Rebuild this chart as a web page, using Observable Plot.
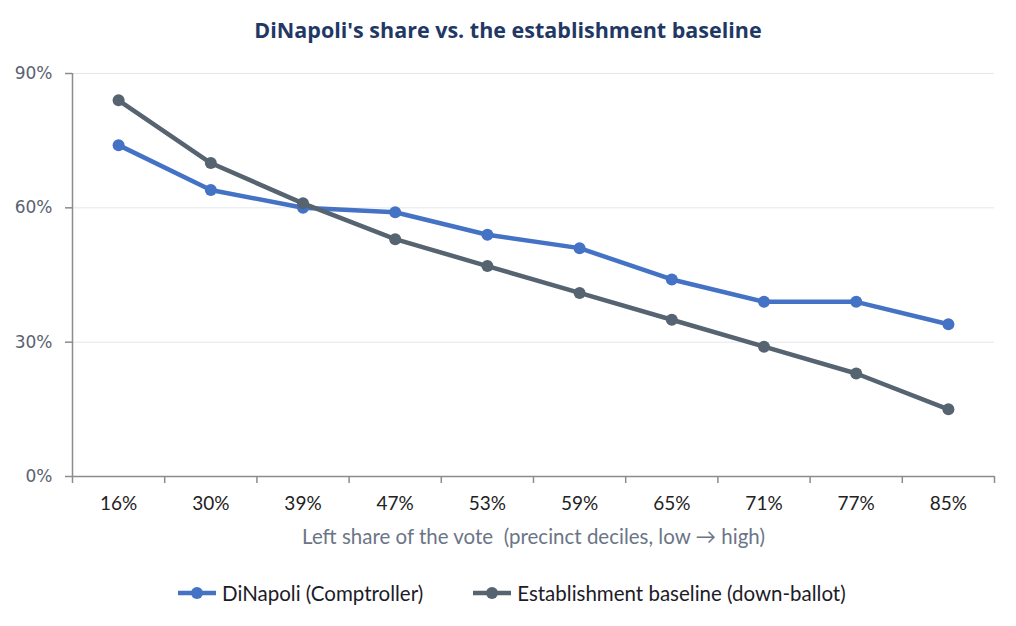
<!DOCTYPE html>
<html>
<head>
<meta charset="utf-8">
<script src="https://cdn.jsdelivr.net/npm/d3@7"></script>
<script src="https://cdn.jsdelivr.net/npm/@observablehq/plot@0.6"></script>
<style>
  body { margin: 0; background: #fff; font-family: Lato, "Open Sans", sans-serif; }
  #title {
    height: 50px; box-sizing: border-box;
    text-align: center; font-family: "Open Sans", sans-serif; font-weight: 700;
    font-size: 21.5px; line-height: 60px; color: #1f3864;
  }
  #chart svg { display: block; }
  #legend {
    display: flex; align-items: center; height: 24px; margin-top: 21px;
    padding-left: 178px; font-size: 20.5px; color: #1c1c28;
  }
  .item { display: flex; align-items: center; margin-right: 50px; }
  .item svg { margin-right: 6px; }
</style>
</head>
<body>
<div id="title">DiNapoli's share vs. the establishment baseline</div>
<div id="chart"></div>
<div id="legend"></div>
<script>
// Precinct deciles by left share of the vote (x categories)
const deciles = ["16%", "30%", "39%", "47%", "53%", "59%", "65%", "71%", "77%", "85%"];
// Vote share (%) in each decile
const dinapoli = [74, 64, 60, 59, 54, 51, 44, 39, 39, 34];
const baseline = [84, 70, 61, 53, 47, 41, 35, 29, 23, 15];
const seriesNames = ["DiNapoli (Comptroller)", "Establishment baseline (down-ballot)"];
const seriesColors = ["#4472c4", "#566370"];
const yTicks = [0, 30, 60, 90];
const xTitle = "Left share of the vote  (precinct deciles, low \u2192 high)";

const rows = [dinapoli, baseline].flatMap((vals, s) =>
  vals.map((v, i) => ({ i, label: deciles[i], series: seriesNames[s], value: v }))
);

const n = deciles.length;
const xDomain = [-0.5, n - 0.5];
const boundaries = d3.range(n + 1).map(i => i - 0.5);
const axisGray = "#8c8c8c";

// Each series draws its line, then its markers, so the later series sits on top
const seriesMarks = seriesNames.flatMap(name => {
  const data = rows.filter(d => d.series === name);
  return [
    Plot.line(data, { x: "i", y: "value", stroke: "series", strokeWidth: 4.5, strokeLinejoin: "round" }),
    Plot.dot(data, { x: "i", y: "value", fill: "series", r: 6 })
  ];
});

const chart = Plot.plot({
  width: 1016,
  height: 510,
  marginLeft: 72,
  marginRight: 22,
  marginTop: 23,
  marginBottom: 84,
  style: { fontFamily: "Lato, sans-serif", background: "transparent" },
  x: { domain: xDomain, axis: null },
  y: { domain: [0, 90], axis: null },
  color: { domain: seriesNames, range: seriesColors },
  marks: [
    Plot.gridY(yTicks.slice(1), { stroke: "#e2e6ee", strokeOpacity: 1, strokeWidth: 1 }),
    Plot.axisY(yTicks, {
      tickSize: 7, tickPadding: 13, tickFormat: d => d + "%",
      fontSize: 17, fontFamily: "DejaVu Sans", fill: "#5a6270", stroke: axisGray, strokeWidth: 1.5, label: null
    }),
    Plot.axisX(boundaries, {
      tickSize: 7, tickFormat: () => "", stroke: axisGray, strokeWidth: 1.5, label: null
    }),
    Plot.axisX(d3.range(n), {
      tickSize: 0, tickPadding: 20, tickFormat: i => deciles[i],
      fontSize: 19, fill: "#222222", label: null
    }),
    Plot.ruleX([xDomain[0]], { y1: 0, y2: 90, stroke: axisGray, strokeWidth: 1.5 }),
    Plot.ruleY([0], { stroke: axisGray, strokeWidth: 1.5 }),
    Plot.text([xTitle], {
      frameAnchor: "bottom", dy: 61, fontSize: 20.5, fill: "#6b7587", lineAnchor: "middle"
    }),
    ...seriesMarks
  ]
});
document.getElementById("chart").append(chart);

// Legend
const legend = document.getElementById("legend");
seriesNames.forEach((name, k) => {
  const item = document.createElement("div");
  item.className = "item";
  item.innerHTML =
    `<svg width="38" height="14"><line x1="0" x2="38" y1="7" y2="7" stroke="${seriesColors[k]}" stroke-width="4.5"/>` +
    `<circle cx="19" cy="7" r="6" fill="${seriesColors[k]}"/></svg><span>${name}</span>`;
  legend.append(item);
});
</script>
</body>
</html>
